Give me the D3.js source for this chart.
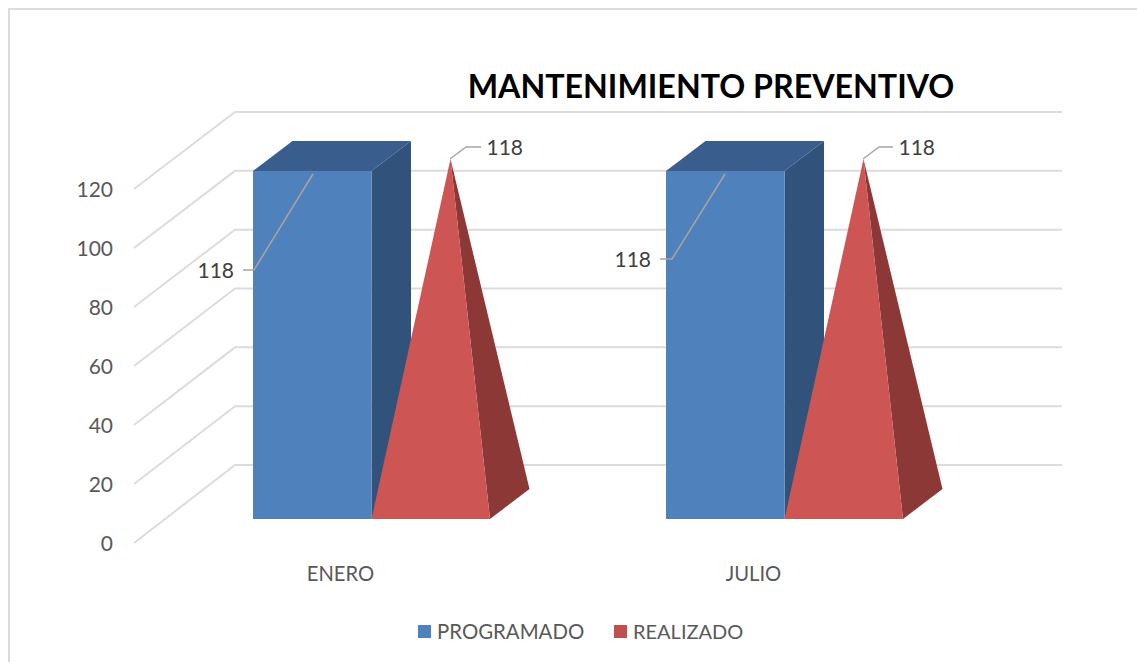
<!DOCTYPE html>
<html><head><meta charset="utf-8">
<script src="https://d3js.org/d3.v7.min.js"></script>
<style>html,body{margin:0;padding:0;background:#fff}svg{display:block}text{font-family:Lato,"Open Sans",sans-serif}</style>
</head><body><div id="c"></div>
<script>
const categories = ["ENERO", "JULIO"];
const seriesNames = ["PROGRAMADO", "REALIZADO"];
const programado = [118, 118];
const realizado = [118, 118];
const yTicks = [0, 20, 40, 60, 80, 100, 120];
const chartTitle = "MANTENIMIENTO PREVENTIVO";
const labelOffsets = [
  {bar:[[313,174],[254,270],[243,270]], barText:[234,270], cone:[[450,159],[466,147],[481,147]], coneText:[487,147]},
  {bar:[[725,174],[672,259],[660,259]], barText:[651,259], cone:[[863,159],[879,147],[893,147]], coneText:[899,147]}
];

const W = 1137, H = 662;
const svg = d3.select("#c").append("svg").attr("width", W).attr("height", H);

// frame (top and left edges only are visible in the crop)
svg.append("path").attr("d", `M9,662V9H1137`).attr("fill", "none").attr("stroke", "#dcdcdc").attr("stroke-width", 2);

// scales
const yBack = d3.scaleLinear().domain([0, 120]).range([465, 112]);
const yFront = d3.scaleLinear().domain([0, 120]).range([543, 189]);
const yBar = d3.scaleLinear().domain([0, 120]).range([519, 165]);
const x0 = d3.scaleBand().domain(categories).range([253, 1079]);
const barW = 118.5, depthX = 39.5, depthY = 30;

// grid
const grid = svg.append("g");
yTicks.forEach(t => {
  grid.append("path").attr("d", `M134,${yFront(t)}L235,${yBack(t)}H1062`)
    .attr("fill", "none").attr("stroke", "#dcdcdc").attr("stroke-width", 2);
});

// y tick labels
svg.append("g").selectAll("text").data(yTicks).join("text")
  .attr("x", 113).attr("y", d => yFront(d) + 7.5).attr("text-anchor", "end")
  .attr("font-size", 21).attr("fill", "#595959").text(d => d);

const poly = pts => "M" + pts.map(p => p.join(",")).join("L") + "Z";

categories.forEach((c, i) => {
  const g = svg.append("g");
  const x = x0(c), top = yBar(programado[i]), base = yBar(0);
  // column
  g.append("path").attr("d", poly([[x + barW, base], [x + barW, top], [x + barW + depthX, top - depthY], [x + barW + depthX, base - depthY]])).attr("fill", "#31527b");
  g.append("path").attr("d", poly([[x, top], [x + barW, top], [x + barW + depthX, top - depthY], [x + depthX, top - depthY]])).attr("fill", "#395d8c");
  g.append("rect").attr("x", x).attr("y", top).attr("width", barW).attr("height", base - top).attr("fill", "#4f81bd");
  // cone
  const cx = x + barW, ax = cx + (barW + depthX) / 2, ay = yBar(realizado[i]) - 12;
  g.append("path").attr("d", poly([[cx + barW, base], [cx + barW + depthX, base - depthY], [ax, ay]])).attr("fill", "#8c3836");
  g.append("path").attr("d", poly([[cx, base], [cx + barW, base], [ax, ay]])).attr("fill", "#cd5553");
  // leader lines and labels
  const o = labelOffsets[i];
  const line = d3.line();
  g.append("path").attr("d", line(o.bar)).attr("fill", "none").attr("stroke", "#a9a49c").attr("stroke-width", 1.5);
  g.append("path").attr("d", line(o.cone)).attr("fill", "none").attr("stroke", "#a6a6a6").attr("stroke-width", 1.5);
  g.append("text").attr("x", o.barText[0]).attr("y", o.barText[1] + 8).attr("text-anchor", "end")
    .attr("font-size", 21).attr("fill", "#404040").text(programado[i]);
  g.append("text").attr("x", o.coneText[0] - 0.5).attr("y", o.coneText[1] + 8)
    .attr("font-size", 21).attr("fill", "#404040").text(realizado[i]);
  // category
  svg.append("text").attr("x", x + 87.5).attr("y", 580.5).attr("text-anchor", "middle")
    .attr("font-size", 20.2).attr("fill", "#595959").text(c);
});

// title
svg.append("text").attr("x", 711).attr("y", 98).attr("text-anchor", "middle")
  .attr("font-size", 32.2).attr("font-weight", 700).attr("fill", "#000").text(chartTitle);

// legend
const legendX = [418, 614], legendColors = ["#4f81bd", "#c0504d"];
seriesNames.forEach((s, i) => {
  svg.append("rect").attr("x", legendX[i]).attr("y", 625).attr("width", 13).attr("height", 13).attr("fill", legendColors[i]);
  svg.append("text").attr("x", legendX[i] + 19).attr("y", 638.5).attr("font-size", i ? 20 : 20.4).attr("fill", "#595959").text(s);
});
</script></body></html>
